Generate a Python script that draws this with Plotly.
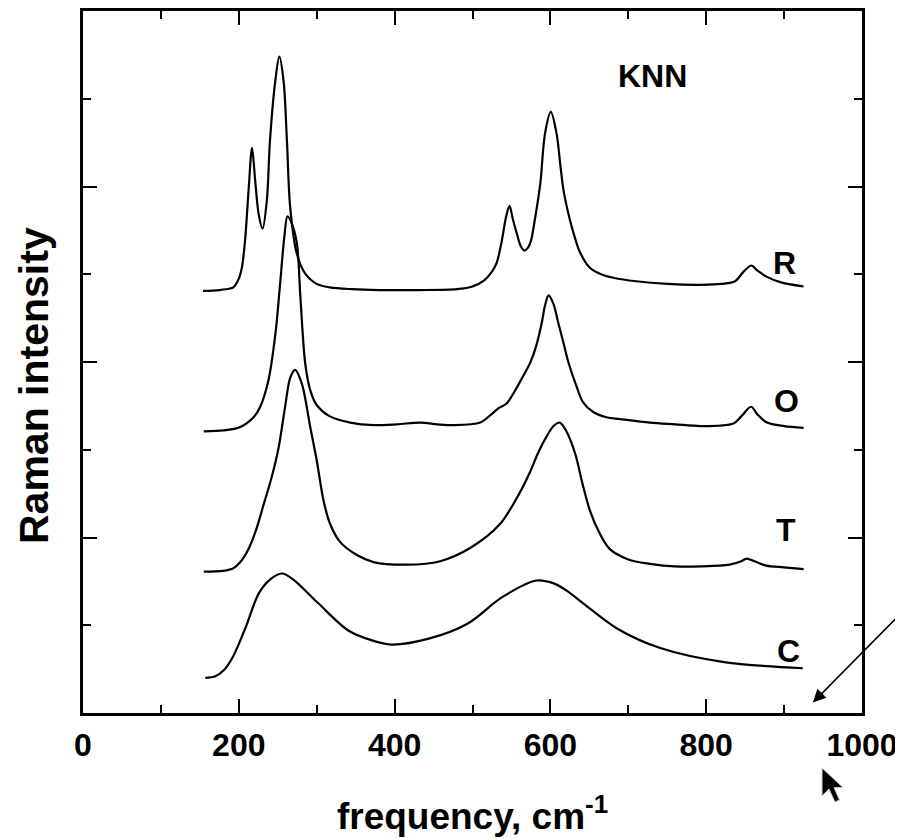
import plotly.graph_objects as go

# ---- data (frequency in cm^-1, intensity in offset units) ----
freq_R = [154, 175, 190, 193, 200, 204, 208, 212.5, 217, 221, 225.4, 230.5, 236, 240, 246.8, 252, 257.5, 261.8, 266, 274.6,
          285, 300, 317, 345, 380, 430, 480, 500, 515, 525, 531, 537.6, 543, 547.5, 552, 557, 562, 566.7, 571, 575, 580,
          587, 593, 600.5, 608, 612.7, 617, 625, 632, 638, 650, 665, 681, 710, 750, 793, 820, 837, 848, 858, 866, 878, 895, 925]
int_R = [4.81, 4.82, 4.84, 4.85, 4.95, 5.08, 5.38, 5.95, 6.44, 6.07, 5.69, 5.52, 5.84, 6.52, 7.2, 7.48, 7.2, 6.52, 5.76, 5.23,
         5.01, 4.89, 4.85, 4.83, 4.82, 4.82, 4.83, 4.86, 4.93, 5.03, 5.13, 5.38, 5.65, 5.78, 5.62, 5.46, 5.32, 5.27, 5.30, 5.38, 5.62,
         6.03, 6.6, 6.85, 6.6, 6.25, 5.95, 5.62, 5.40, 5.25, 5.08, 5.00, 4.96, 4.92, 4.89, 4.88, 4.89, 4.92, 5.03, 5.10, 5.04, 4.97, 4.91, 4.86]

freq_O = [155, 180.5, 202, 219, 227.5, 238, 247, 253, 258.4, 262.5, 268, 274.6, 279, 285.3, 291.7, 300, 317, 343, 373, 403,
          433, 455, 475, 510, 525, 533, 544, 557, 565, 574, 582, 589, 593, 597.6, 604, 610, 617, 623, 634, 642,
          655, 672, 689.5, 728, 760, 793, 835, 845, 857.6, 866, 878, 900, 925]
int_O = [3.21, 3.22, 3.26, 3.37, 3.49, 3.79, 4.32, 4.89, 5.42, 5.66, 5.58, 5.35, 4.75, 3.98, 3.68, 3.51, 3.38, 3.31, 3.28, 3.29,
         3.31, 3.29, 3.28, 3.31, 3.41, 3.47, 3.53, 3.71, 3.84, 3.99, 4.19, 4.45, 4.64, 4.76, 4.66, 4.45, 4.21, 4.00, 3.71, 3.54,
         3.43, 3.37, 3.35, 3.31, 3.29, 3.27, 3.30, 3.38, 3.49, 3.40, 3.31, 3.27, 3.25]

freq_T = [155, 180, 193, 202, 212, 222, 232, 242, 251, 259.6, 266, 272.4, 281, 291.7, 300, 308.8, 317, 330, 351.6, 373,
          415.7, 458.5, 497, 535, 560, 574, 585, 595, 604, 612, 620, 632, 641, 651, 663, 676, 700, 728, 760, 793,
          830, 845, 852, 862, 877, 900, 925]
int_T = [1.61, 1.62, 1.65, 1.72, 1.86, 2.08, 2.38, 2.68, 3.02, 3.50, 3.82, 3.91, 3.75, 3.26, 2.88, 2.42, 2.16, 1.95, 1.80, 1.72,
         1.69, 1.73, 1.88, 2.15, 2.5, 2.75, 2.98, 3.15, 3.27, 3.31, 3.22, 2.95, 2.62, 2.30, 2.05, 1.87, 1.75, 1.70, 1.67, 1.67,
         1.69, 1.73, 1.76, 1.73, 1.68, 1.66, 1.64]

freq_C = [157, 170, 182, 192.5, 209, 225.5, 240, 255.6, 270, 302, 340.5, 370, 395.5, 445, 494, 538, 582, 603.6, 620, 642,
          686, 741, 823, 924]
int_C = [0.40, 0.42, 0.50, 0.64, 0.98, 1.36, 1.52, 1.59, 1.52, 1.25, 0.94, 0.83, 0.78, 0.85, 1.02, 1.32, 1.51, 1.48, 1.40, 1.25,
         0.96, 0.74, 0.58, 0.51]

phase_labels = ["R", "O", "T", "C"]
label_x = [901, 903, 903, 906]
label_y = [5.13, 3.56, 2.08, 0.71]

x_ticks = [0, 200, 400, 600, 800, 1000]

FONT = "Arial, Liberation Sans, Helvetica, sans-serif"
OFF = 8  # page body margin of the browser
W, H = 903, 839
PLEFT, PRIGHT, PTOP, PBOTTOM = 83, 862, 11, 713  # target plot frame in window pixels
ML, MT = PLEFT - OFF, PTOP - OFF
MR = W + OFF - PRIGHT
MB = H + OFF - PBOTTOM
PW, PH = PRIGHT - PLEFT, PBOTTOM - PTOP


def px2paper(px, py):
    return (px - PLEFT) / PW, (PBOTTOM - py) / PH


fig = go.Figure()
for fx, iy, name in [(freq_R, int_R, "R"), (freq_O, int_O, "O"), (freq_T, int_T, "T"), (freq_C, int_C, "C")]:
    fig.add_trace(go.Scatter(x=fx, y=iy, mode="lines", name=name,
                             line=dict(color="black", width=2.2, shape="spline", smoothing=0.9),
                             showlegend=False, hoverinfo="skip"))

for t, lx, ly in zip(phase_labels, label_x, label_y):
    fig.add_annotation(x=lx, y=ly, text=f"<b>{t}</b>", showarrow=False,
                       font=dict(family=FONT, size=32, color="black"), xanchor="center", yanchor="middle")

fig.add_annotation(x=731, y=7.26, text="<b>KNN</b>", showarrow=False,
                   font=dict(family=FONT, size=32, color="black"), xanchor="center", yanchor="middle")

# y-axis title (placed slightly below the plot centre, as in the reference)
tx, ty = px2paper(34, 386)
fig.add_annotation(x=tx, y=ty, xref="paper", yref="paper", text="<b>Raman intensity</b>", textangle=-90,
                   showarrow=False, font=dict(family=FONT, size=41, color="black"),
                   xanchor="center", yanchor="middle")

# arrow pointing into the lower right corner
fig.add_annotation(x=937, y=0.12, ax=90, ay=-91, text="", showarrow=True,
                   arrowhead=2, arrowsize=1.6, arrowwidth=1.6, arrowcolor="black", standoff=0)

cursor = [(822, 768), (822, 796), (829, 789), (835, 802), (839.5, 800), (834, 787.5), (843, 787.5)]
pts = [px2paper(a, b) for a, b in cursor]
path = "M " + " L ".join(f"{a:.4f},{b:.4f}" for a, b in pts) + " Z"
fig.add_shape(type="path", path=path, xref="paper", yref="paper",
              fillcolor="black", line=dict(color="#cccccc", width=1))

axis_common = dict(showline=True, linecolor="black", linewidth=2.5, mirror="allticks",
                   ticks="inside", tickwidth=2, ticklen=14, tickcolor="black",
                   showgrid=False, zeroline=False)

fig.update_xaxes(range=[0, 1000], tickvals=x_ticks, ticktext=[f"<b>{v}</b>" for v in x_ticks],
                 tickfont=dict(family=FONT, size=32, color="black"),
                 minor=dict(dtick=100, ticks="inside", ticklen=8, tickwidth=2, tickcolor="black", showgrid=False),
                 title=dict(text="<b>frequency, cm<sup>-1</sup></b>", font=dict(family=FONT, size=37, color="black"),
                            standoff=41),
                 ticklabelstandoff=2,
                 **axis_common)
fig.update_yaxes(range=[0, 8], dtick=2, tick0=0, showticklabels=False,
                 minor=dict(dtick=1, ticks="inside", ticklen=8, tickwidth=2, tickcolor="black", showgrid=False),
                 **axis_common)

fig.update_layout(width=W, height=H, margin=dict(l=ML, r=MR, t=MT, b=MB, autoexpand=False),
                  plot_bgcolor="white", paper_bgcolor="white",
                  font=dict(family=FONT, color="black"))

fig.write_html("out.html")
